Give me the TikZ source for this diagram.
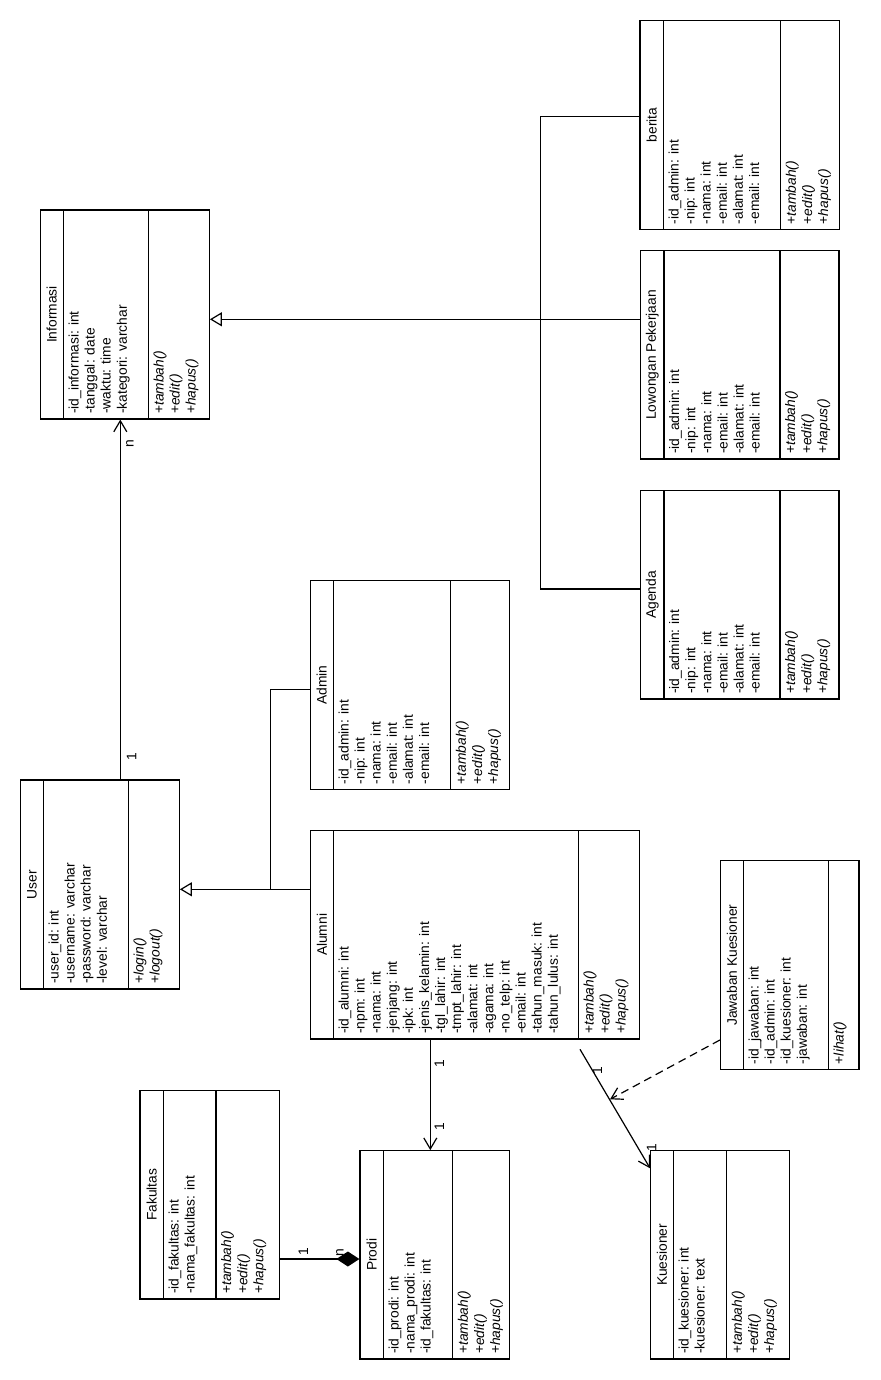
\documentclass[tikz,border=0pt]{standalone}
\usepackage{fontspec}
\setmainfont{Liberation Sans}
\usetikzlibrary{arrows.meta,calc}
\newcommand{\umlfont}{\fontsize{13.8}{16.1}\selectfont}
\def\cparse#1,#2,#3,#4,#5,#6\relax{\def\cXa{#1}\def\cYa{#2}\def\cXb{#3}\def\cYb{#4}\def\cHd{#5}\def\cMd{#6}}
\newcommand{\umlclass}[5]{%
  \cparse#2\relax
  \pgfmathsetmacro\cW{\cXb-\cXa}%
  \pgfmathsetmacro\cH{\cYb-\cYa}%
  \pgfmathsetmacro\cCx{(\cXa+\cXb)/2}%
  \pgfmathsetmacro\cCy{(\cYa+\cYb)/2}%
  \pgfmathsetmacro\cNx{(\cXa+\cHd)/2}%
  \node[classbox, minimum width=\cW pt, minimum height=\cH pt] (#1) at (\cCx,\cCy) {};
  \draw[classline] (\cHd,\cYa) -- (\cHd,\cYb);
  \draw[classline] (\cMd,\cYa) -- (\cMd,\cYb);
  \node[txt, rotate=90] (#1-name) at (\cNx,\cCy) {#3};
  \node[txt, rotate=90, anchor=north west, align=left, inner sep=0pt] (#1-attr) at (\cHd+5,\cYb-5) {#4};
  \node[txt, rotate=90, anchor=north west, align=left, inner sep=0pt] (#1-meth) at (\cMd+5,\cYb-5) {#5};
}
\newcommand{\mthree}{+\textit{tambah()}\\+\textit{edit()}\\+\textit{hapus()}}
\newcommand{\adminattr}{-id\_admin: int\\-nip: int\\-nama: int\\-email: int\\-alamat: int\\-email: int}
\tikzset{
  classbox/.style={draw, rectangle, line width=1.2pt, inner sep=0pt},
  classline/.style={line width=1.2pt},
  txt/.style={font=\umlfont, inner sep=1pt},
  conn/.style={line width=1.2pt},
  gen/.style={conn, -{Triangle[open, length=12pt, width=14pt]}},
  nav/.style={conn, -{Straight Barb[length=11pt, width=13pt]}},
  comp/.style={conn, -{Diamond[length=23pt, width=15pt, fill=black]}},
  dep/.style={conn, dash pattern=on 8pt off 5pt, -{Straight Barb[length=11pt, width=13pt]}}
}
\begin{document}
\begin{tikzpicture}[x=1pt, y=-1pt]
\useasboundingbox (0,0) rectangle (880,1380);
\fill[white] (0,0) rectangle (880,1380);

\umlclass{informasi}{40.3,210,209.3,419,63.3,148.3}{Informasi}
  {-id\_informasi: int\\-tanggal: date\\-waktu: time\\-kategori: varchar}{\mthree}
\umlclass{berita}{640,20.7,839.3,229.3,663.3,780.7}{berita}{\adminattr}{\mthree}
\umlclass{lowongan}{640.7,250.7,839,459,664,780}{Lowongan Pekerjaan}{\adminattr}{\mthree}
\umlclass{agenda}{640.7,490.7,839,699,664,780}{Agenda}{\adminattr}{\mthree}
\umlclass{admin}{310.3,580.7,509.3,789.3,333.3,450.7}{Admin}{\adminattr}{\mthree}
\umlclass{user}{20.5,780,179.3,989,43.3,128.3}{User}
  {-user\_id: int\\-username: varchar\\-password: varchar\\-level: varchar}
  {+\textit{login()}\\+\textit{logout()}}
\umlclass{alumni}{310.5,830.7,639.3,1039,333.3,578.3}{Alumni}
  {-id\_alumni: int\\-npm: int\\-nama: int\\-jenjang: int\\-ipk: int\\-jenis\_kelamin: int\\-tgl\_lahir: int\\-tmpt\_lahir: int\\-alamat: int\\-agama: int\\-no\_telp: int\\-email: int\\-tahun\_masuk: int\\-tahun\_lulus: int}{\mthree}
\umlclass{jawaban}{720.5,860.7,859,1069.3,743.3,828.3}{Jawaban Kuesioner}
  {-id\_jawaban: int\\-id\_admin: int\\-id\_kuesioner: int\\-jawaban: int}{+\textit{lihat()}}
\umlclass{fakultas}{140,1090.7,279.3,1299,163.3,216}{Fakultas}
  {-id\_fakultas: int\\-nama\_fakultas: int}{\mthree}
\umlclass{prodi}{360,1150.7,509.3,1359,383.3,452.7}{Prodi}
  {-id\_prodi: int\\-nama\_prodi: int\\-id\_fakultas: int}{\mthree}
\umlclass{kuesioner}{650.7,1150.7,789.3,1359,673.3,726.7}{Kuesioner}
  {-id\_kuesioner: int\\-kuesioner: text}{\mthree}

% generalization to Informasi
\coordinate (bj) at (540.7,116.7);
\coordinate (gt) at (540.7,319.3);
\coordinate (aj) at (540.7,589);
\draw[conn] (berita.west |- bj) -- (bj) -- (aj) -- (agenda.west |- aj);
\draw[gen] (lowongan.west |- gt) -- (informasi.east |- gt);

% User -> Informasi
\coordinate (ui) at (120.3,0);
\draw[nav] (user.north -| ui) -- (informasi.south -| ui);
\node[txt, rotate=90] (mu1) at (131.7,756.7) {1};
\node[txt, rotate=90] (mun) at (130,443.3) {n};

% Admin / Alumni -> User
\coordinate (ua) at (270.3,689.3);
\coordinate (ug) at (270.3,889.3);
\draw[gen] (alumni.west |- ug) -- (user.east |- ug);
\draw[conn] (admin.west |- ua) -- (ua) -- (ug);

% Alumni -> Prodi
\coordinate (ap) at (430.3,0);
\draw[nav] (alumni.south -| ap) -- (prodi.north -| ap);
\node[txt, rotate=90] (map1) at (439.3,1063.3) {1};
\node[txt, rotate=90] (map2) at (439.3,1126.7) {1};

% Fakultas - Prodi composition
\coordinate (fp) at (0,1259);
\draw[comp] (fakultas.east |- fp) -- (prodi.west |- fp);
\node[txt, rotate=90] (mfp1) at (303.3,1251.7) {1};
\node[txt, rotate=90] (mfpn) at (340,1252.7) {n};

% Alumni -> Kuesioner
\coordinate (ks) at (580,1049.3);
\coordinate (kq) at (0,1168.3);
\draw[nav] (ks) -- (kuesioner.west |- kq);
\node[txt, rotate=90] (mak1) at (597.3,1070.7) {1};
\node[txt, rotate=90] (mak2) at (651.7,1147.3) {1};

% Jawaban -> association (dependency)
\coordinate (dj) at (0,1040);
\coordinate (dt) at (610,1099.3);
\draw[dep] (jawaban.west |- dj) -- (dt);
\end{tikzpicture}
\end{document}
